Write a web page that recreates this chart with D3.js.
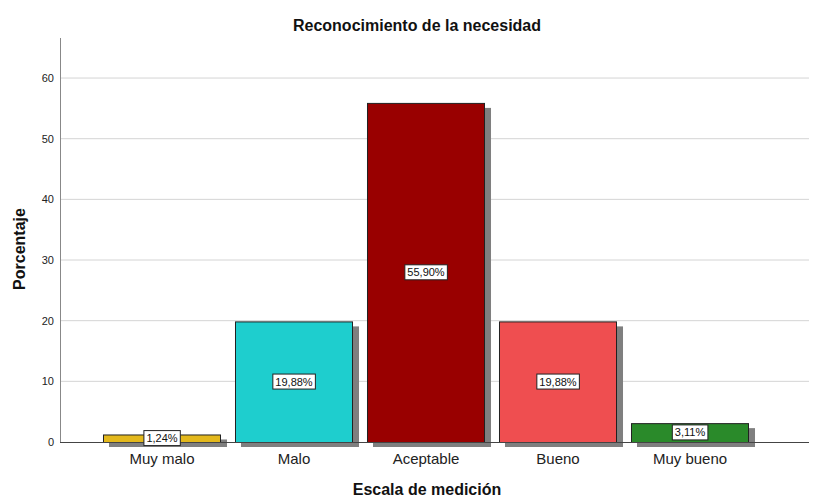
<!DOCTYPE html>
<html><head><meta charset="utf-8">
<script src="https://cdn.jsdelivr.net/npm/d3@7"></script>
<style>body{margin:0;background:#fff}svg{display:block;font-family:"Liberation Sans",Arial,sans-serif}</style>
</head><body><svg id="c" width="823" height="497"></svg>
<script>
const categories = ["Muy malo","Malo","Aceptable","Bueno","Muy bueno"];
const values = [1.24, 19.88, 55.90, 19.88, 3.11];
const valueLabels = ["1,24%","19,88%","55,90%","19,88%","3,11%"];
const colors = ["#e3b81c","#1ecece","#990000","#ef4e50","#2a8a2a"];
const yTicks = [0,10,20,30,40,50,60];

const svg = d3.select("#c");
const x = d3.scaleBand().domain(categories).range([96,756]).paddingInner(0.106).paddingOuter(0.053);
const y = d3.scaleLinear().domain([0,66.6]).range([442,38]);

// gridlines
svg.append("g").selectAll("line").data(yTicks.filter(d=>d>0)).join("line")
  .attr("x1",60).attr("x2",809).attr("y1",d=>y(d)).attr("y2",d=>y(d))
  .attr("stroke","#d4d4d4").attr("stroke-width",1);

// y axis
const yAxis = d3.axisLeft(y).tickValues(yTicks).tickSize(0).tickPadding(6).tickFormat(d3.format("d"));
const gy = svg.append("g").attr("transform","translate(60,0)").call(yAxis);
gy.select(".domain").remove();
gy.selectAll("text").attr("font-size",11).attr("fill","#222").attr("font-family","Liberation Sans, Arial, sans-serif");
svg.append("line").attr("x1",60.5).attr("x2",60.5).attr("y1",38).attr("y2",442).attr("stroke","#888");

// shadows
svg.append("g").selectAll("rect").data(values).join("rect")
  .attr("x",(d,i)=>x(categories[i])+6).attr("y",d=>y(d)+5)
  .attr("width",x.bandwidth()).attr("height",d=>y(0)-y(d))
  .attr("fill","#7f7f7f");

// bars
svg.append("g").selectAll("rect").data(values).join("rect")
  .attr("x",(d,i)=>x(categories[i])+0.5).attr("y",d=>y(d)+0.5)
  .attr("width",x.bandwidth()-1).attr("height",d=>y(0)-y(d))
  .attr("fill",(d,i)=>colors[i]).attr("stroke","#222").attr("stroke-width",1);

// baseline
svg.append("line").attr("x1",60).attr("x2",809).attr("y1",442.5).attr("y2",442.5).attr("stroke","#444");

// x axis labels
const xAxis = d3.axisBottom(x).tickSize(0).tickPadding(10);
const gx = svg.append("g").attr("transform","translate(0,443)").call(xAxis);
gx.select(".domain").remove();
gx.selectAll("text").attr("font-size",15).attr("fill","#222").attr("font-family","Liberation Sans, Arial, sans-serif");

// value labels
const lg = svg.append("g").selectAll("g").data(values).join("g")
  .attr("transform",(d,i)=>`translate(${x(categories[i])+x.bandwidth()/2},${y(d/2)})`);
lg.append("text").text((d,i)=>valueLabels[i]).attr("text-anchor","middle").attr("dy","0.35em")
  .attr("font-size",11).attr("fill","#111")
  .each(function(){
    const b=this.getBBox();
    d3.select(this.parentNode).insert("rect","text").attr("x",b.x-2.5).attr("y",b.y-1.5)
      .attr("width",b.width+5).attr("height",b.height+3).attr("fill","#fff").attr("stroke","#222").attr("stroke-width",1);
  });

// titles
svg.append("text").attr("x",417).attr("y",31).attr("text-anchor","middle").attr("font-size",16).attr("font-weight","bold").attr("fill","#111").text("Reconocimiento de la necesidad");
svg.append("text").attr("x",427).attr("y",495).attr("text-anchor","middle").attr("font-size",16).attr("font-weight","bold").attr("fill","#111").text("Escala de medición");
svg.append("text").attr("transform","translate(25,249) rotate(-90)").attr("text-anchor","middle").attr("font-size",16).attr("font-weight","bold").attr("fill","#111").text("Porcentaje");
</script></body></html>
